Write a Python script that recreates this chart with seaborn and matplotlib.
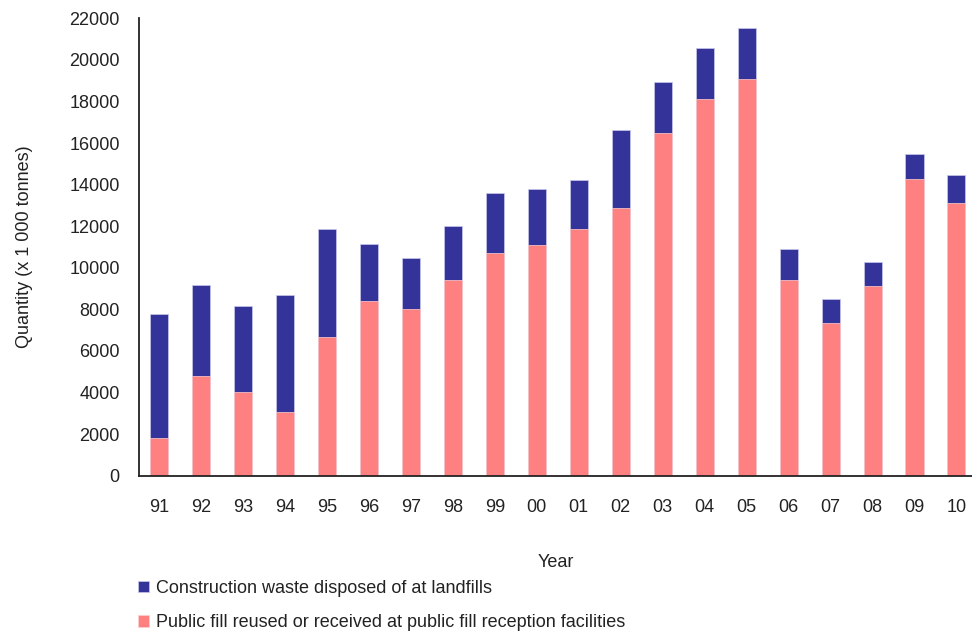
import matplotlib
matplotlib.use("Agg")
import matplotlib.pyplot as plt
import seaborn as sns
import pandas as pd
from matplotlib.patches import Patch

years = ["91", "92", "93", "94", "95", "96", "97", "98", "99", "00",
         "01", "02", "03", "04", "05", "06", "07", "08", "09", "10"]
public_fill = [1830, 4810, 4010, 3080, 6690, 8400, 8000, 9430, 10700, 11080,
               11850, 12880, 16490, 18140, 19070, 9430, 7330, 9120, 14290, 13120]
landfill = [5950, 4380, 4170, 5630, 5160, 2740, 2450, 2580, 2890, 2730,
            2360, 3770, 2440, 2420, 2440, 1490, 1150, 1170, 1170, 1330]
labels = ["Construction waste disposed of at landfills",
          "Public fill reused or received at public fill reception facilities"]
navy = "#333399"
pink = "#FF8080"

df = pd.DataFrame({"year": years, "fill": public_fill, "landfill": landfill})
df["total"] = df["fill"] + df["landfill"]

sns.set_style("white")
plt.rcParams["font.family"] = ["Liberation Sans", "DejaVu Sans"]

fig = plt.figure(figsize=(9.72, 6.35), dpi=100)
ax = fig.add_axes([139.3 / 972, (635 - 475.7) / 635, 1 - 139.3 / 972, (475.7 - 18.3) / 635])

sns.barplot(data=df, x="year", y="total", order=years, color=navy, width=0.43,
            saturation=1, ax=ax, edgecolor="#c8c8ec", linewidth=0.5)
sns.barplot(data=df, x="year", y="fill", order=years, color=pink, width=0.43,
            saturation=1, ax=ax, edgecolor="#ffd0d0", linewidth=0.5)

ax.set_ylim(0, 22000)
ax.set_xlim(-0.469, 19.37)
ax.set_yticks(range(0, 22001, 2000))
for s in ["top", "right"]:
    ax.spines[s].set_visible(False)
for s in ["left", "bottom"]:
    ax.spines[s].set_color("#222222")
    ax.spines[s].set_linewidth(1.3)
ax.tick_params(axis="y", direction="in", length=5, width=1.2, colors="#222222",
               labelsize=13, pad=14, labelcolor="#222222")
ax.tick_params(axis="x", length=0, labelsize=13, pad=17, labelcolor="#222222")
ax.set_xlabel("Year", fontsize=13, labelpad=27, color="#222222")
ax.set_ylabel("Quantity (x 1 000 tonnes)", fontsize=13, labelpad=16, color="#222222")
ax.yaxis.set_label_coords(-0.128, 0.5)

handles = [Patch(facecolor=navy, edgecolor="#c8c8ec", linewidth=0.5),
           Patch(facecolor=pink, edgecolor="#ffd0d0", linewidth=0.5)]
fig.legend(handles, labels, loc="upper left", bbox_to_anchor=(138 / 972, 1 - 580 / 635),
           frameon=False, fontsize=13, handlelength=0.6, handleheight=0.6,
           handletextpad=0.4, labelspacing=0.95, borderpad=0, borderaxespad=0,
           labelcolor="#222222")

fig.savefig("out.png", dpi=100)
